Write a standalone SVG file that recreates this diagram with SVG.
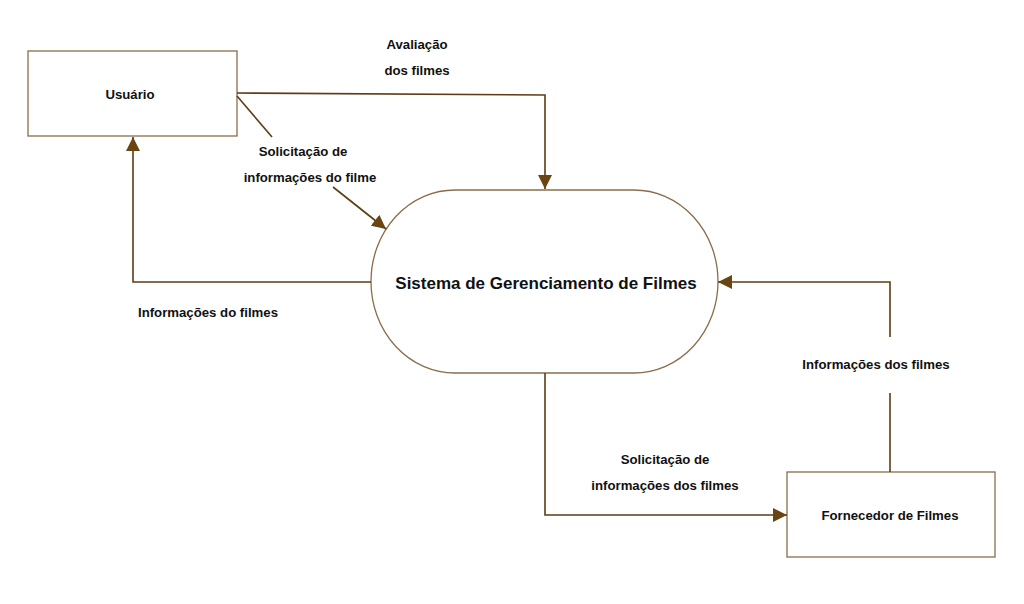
<svg xmlns="http://www.w3.org/2000/svg" width="1024" height="604" viewBox="0 0 1024 604">
<style>
.box{fill:#fff;stroke:#8a6d4b;stroke-width:1.3}
.lbl{font-family:"Liberation Sans",Arial,sans-serif;font-weight:bold;font-size:13.2px;fill:#111;text-anchor:middle}
.title{font-family:"Liberation Sans",Arial,sans-serif;font-weight:bold;font-size:17px;fill:#111;text-anchor:middle}
.con{fill:none;stroke:#5e3c14;stroke-width:1.6}
</style>
<defs>
<marker id="ahb" viewBox="0 0 10 10" refX="10" refY="5" markerWidth="14" markerHeight="14" orient="auto" markerUnits="userSpaceOnUse">
<path d="M0,0 L10,5 L0,10 z" fill="#6b4511"/>
</marker>
</defs>
<rect width="1024" height="604" fill="#fff"/>
<g id="usuario">
<rect class="box" x="28" y="51" width="209" height="85"/>
<text class="lbl" x="130" y="99">Usuário</text>
</g>
<g id="sistema">
<path class="box" d="M455,190 L634,190 A84,91.5 0 0 1 634,373 L455,373 A84,91.5 0 0 1 455,190 Z"/>
<text class="title" x="546" y="289">Sistema de Gerenciamento de Filmes</text>
</g>
<g id="fornecedor">
<rect class="box" x="787" y="472" width="208" height="85"/>
<text class="lbl" x="890" y="520">Fornecedor de Filmes</text>
</g>
<g id="connectors">
<path class="con" d="M237,93 L545,95 L545,189" marker-end="url(#ahb)"/>
<path class="con" d="M237,96 L272,137"/>
<path class="con" d="M333,187 L386,229" marker-end="url(#ahb)"/>
<path class="con" d="M371,282 L133,282 L133,137" marker-end="url(#ahb)"/>
<path class="con" d="M545,373 L545,515 L787,515" marker-end="url(#ahb)"/>
<path class="con" d="M890,472 L890,393"/>
<path class="con" d="M890,337 L890,282 L718,282" marker-end="url(#ahb)"/>
</g>
<g id="labels">
<text class="lbl" x="417" y="49">Avaliação</text>
<text class="lbl" x="417" y="75">dos filmes</text>
<text class="lbl" x="303" y="156">Solicitação de</text>
<text class="lbl" x="310" y="182">informações do filme</text>
<text class="lbl" x="208" y="317">Informações do filmes</text>
<text class="lbl" x="665" y="464">Solicitação de</text>
<text class="lbl" x="665" y="490">informações dos filmes</text>
<text class="lbl" x="876" y="369">Informações dos filmes</text>
</g>
</svg>
